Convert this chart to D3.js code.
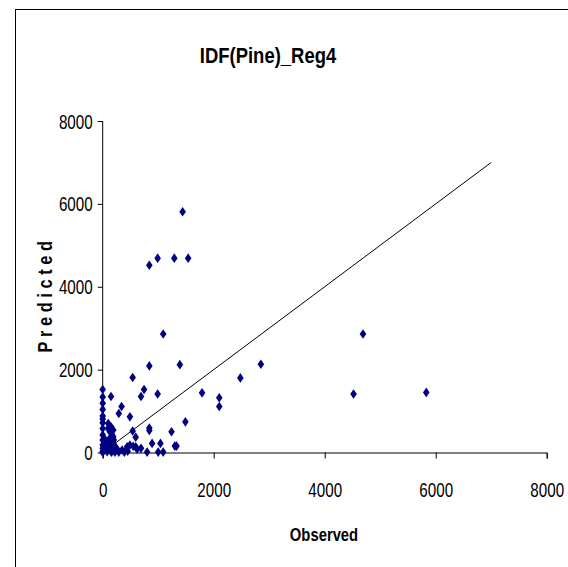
<!DOCTYPE html>
<html><head><meta charset="utf-8">
<script src="https://cdn.jsdelivr.net/npm/d3@7"></script>
<style>body{margin:0;background:#fff}svg{display:block}</style>
</head><body>
<svg id="c" width="568" height="567"></svg>
<script>
const title = "IDF(Pine)_Reg4";
const xLabel = "Observed";
const yLabel = "Predicted";
const tickValues = [0, 2000, 4000, 6000, 8000];
const observed = [
 1440, 840, 990, 1290, 1540, 1090, 840, 1390, 540, 745, 690, 990, 150, 340, 290, 490, 840, 840, 540, 595, 1490, 1240, 1790, 2100, 2100, 2480, 2850, 4520, 4690, 5830,
 890, 1040, 1300, 1330, 800, 1000, 1090, 690, 595, 490, 440, 390, 290,
 0, 0, 0, 0, 0, 0, 0, 0, 0, 0, 0, 0, 0, 0,
 100, 130, 190, 190, 95, 150, 60, 100, 150, 200, 250, 30, 80, 140, 180, 220, 260, 50, 120, 170, 200, 40, 90, 160, 350, 450, 550, 620
];
const predicted = [
 5810, 4520, 4690, 4690, 4690, 2860, 2090, 2120, 1810, 1520, 1350, 1410, 1350, 1110, 940, 860, 590, 530, 520, 370, 740, 500, 1440, 1320, 1110, 1800, 2130, 1410, 2860, 1450,
 220, 220, 155, 155, 10, 10, 10, 100, 140, 180, 140, 10, 10,
 1520, 1340, 1190, 1040, 880, 810, 720, 580, 420, 300, 180, 100, 30, 0,
 700, 500, 540, 380, 580, 620, 240, 160, 260, 200, 100, 60, 20, 40, 120, 10, 60, 300, 330, 420, 300, 150, 100, 10, 60, 30, 150, 80
];
const refLine = [[220, 220], [7000, 7000]];

const svg = d3.select("#c");
const font = "'Liberation Sans','Arial',sans-serif";

svg.append("rect").attr("x", 15.5).attr("y", 9.5).attr("width", 600).attr("height", 600)
  .attr("fill", "none").attr("stroke", "#000").attr("stroke-width", 1);

const x = d3.scaleLinear().domain([0, 8000]).range([102.7, 546.7]);
const y = d3.scaleLinear().domain([0, 8000]).range([452.5, 121]);

const xAxis = svg.append("g").attr("transform", `translate(0,${y(0)})`)
  .call(d3.axisBottom(x).tickValues(tickValues).tickSize(6).tickPadding(10).tickFormat(d3.format("d")));
const yAxis = svg.append("g").attr("transform", `translate(${x(0)},0)`)
  .call(d3.axisLeft(y).tickValues(tickValues).tickSize(5).tickPadding(6).tickFormat(d3.format("d")));
[xAxis, yAxis].forEach(g => {
  g.selectAll("path.domain").attr("stroke", "#000");
  g.selectAll(".tick line").attr("stroke", "#000");
  g.selectAll("text").attr("font-family", font).attr("font-size", 20).attr("fill", "#000");
});
yAxis.selectAll("path.domain").attr("d", `M-0,${y(8000)}V${y(0)}`);
// condense tick labels horizontally (narrow face)
xAxis.selectAll(".tick text").attr("dy", "0.71em").attr("y", 0)
  .attr("transform", "translate(0,30) scale(0.76,1)");
yAxis.selectAll(".tick text").attr("x", 0).attr("dy", "0.35em")
  .attr("transform", "translate(-10,0) scale(0.76,1)");

svg.append("line")
  .attr("x1", x(refLine[0][0])).attr("y1", y(refLine[0][1]))
  .attr("x2", x(refLine[1][0])).attr("y2", y(refLine[1][1]))
  .attr("stroke", "#000").attr("stroke-width", 1);

const pts = observed.map((o, i) => [o, predicted[i]]);
svg.append("g").selectAll("path").data(pts).join("path")
  .attr("transform", d => `translate(${x(d[0])},${y(d[1])})`)
  .attr("d", "M0,-4.8L3.3,0L0,4.8L-3.3,0Z")
  .attr("fill", "#000080");

svg.append("text").attr("transform", "translate(268,63) scale(0.84,1)").attr("text-anchor", "middle")
  .attr("font-family", font).attr("font-weight", "bold").attr("font-size", 22).text(title);
svg.append("text").attr("transform", "translate(324,541) scale(0.78,1)").attr("text-anchor", "middle")
  .attr("font-family", font).attr("font-weight", "bold").attr("font-size", 19).text(xLabel);
svg.append("text").attr("transform", "translate(51.5,294.5) rotate(-90) scale(0.82,1)").attr("text-anchor", "middle")
  .attr("font-family", font).attr("font-weight", "bold").attr("font-size", 20)
  .attr("letter-spacing", 5.6).text(yLabel);
</script>
</body></html>
